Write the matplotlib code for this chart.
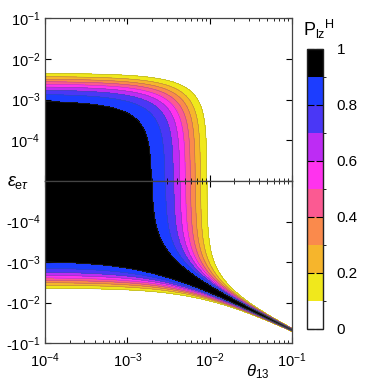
import numpy as np
import matplotlib
matplotlib.use('Agg')
import matplotlib.pyplot as plt
from matplotlib.colors import ListedColormap, BoundaryNorm

plt.rcParams['font.family'] = ['Liberation Sans', 'DejaVu Sans']
plt.rcParams['mathtext.fontset'] = 'custom'
plt.rcParams['mathtext.rm'] = 'Liberation Sans'
plt.rcParams['mathtext.it'] = 'Liberation Sans:italic'

# colour levels of P_lz^H
levels = [0, 0.1, 0.2, 0.3, 0.4, 0.5, 0.6, 0.7, 0.8, 0.9, 1.0]
band_colors = ['#ffffff', '#f0e81c', '#f6b52c', '#fa8a4c', '#fb5a92',
               '#ff33ee', '#bd2cf4', '#4a37f6', '#1c3dff', '#000000']

# fitted from the picture: P = exp(-(theta_eff / theta_c)^2), theta_eff = theta13 + a*eps
theta_c = 6.1e-3
a_eps = 2.1

x_ticks = [1e-4, 1e-3, 1e-2, 1e-1]
x_labels = ['$10^{-4}$', '$10^{-3}$', '$10^{-2}$', '$10^{-1}$']
y_ticks = [1e-5, 1e-4, 1e-3, 1e-2, 1e-1]
y_labels_up = ['', '$10^{-4}$', '$10^{-3}$', '$10^{-2}$', '$10^{-1}$']
y_labels_dn = ['', '-$10^{-4}$', '-$10^{-3}$', '-$10^{-2}$', '-$10^{-1}$']

cmap = ListedColormap(band_colors)
norm = BoundaryNorm(levels, cmap.N)

th = np.logspace(-4, -1, 600)
ep = np.logspace(-5, -1, 600)
TH, EP = np.meshgrid(th, ep)

fig = plt.figure(figsize=(3.68, 3.82), dpi=100)
ax_up = fig.add_axes([0.1223, 0.526, 0.6712, 0.4269])
ax_dn = fig.add_axes([0.1223, 0.1021, 0.6712, 0.4239])

for ax, sign in [(ax_up, 1), (ax_dn, -1)]:
    P = np.exp(-((TH + sign * a_eps * EP) / theta_c) ** 2)
    ax.contourf(TH, EP, P, levels=levels, cmap=cmap, norm=norm)
    ax.contour(TH, EP, P, levels=levels[1:-1], colors='#555555', linewidths=0.3, alpha=0.6)
    ax.set_xscale('log')
    ax.set_yscale('log')
    ax.set_xlim(1e-4, 1e-1)
    ax.set_ylim(1e-5, 1e-1)
    ax.set_yticks(y_ticks)
    ax.yaxis.set_minor_locator(matplotlib.ticker.NullLocator())
    ax.tick_params(which='both', direction='in', top=True, right=True, labelsize=10.5)
    ax.tick_params(which='major', length=4)
    ax.tick_params(which='minor', length=2)
    for s in ax.spines.values():
        s.set_color('#444444')
        s.set_linewidth(0.9)

ax_up.set_yticklabels(y_labels_up)
ax_up.set_xticklabels([])
ax_up.tick_params(axis='x', which='both', labelbottom=False)
ax_dn.invert_yaxis()
ax_dn.set_yticklabels(y_labels_dn)
ax_dn.set_xticks(x_ticks)
ax_dn.set_xticklabels(x_labels)
ax_dn.tick_params(axis='x', pad=6)

fig.text(0.02, 0.522, r'$\varepsilon_{\mathrm{e}\tau}$', fontsize=13, ha='left', va='center')
fig.text(0.70, 0.028, r'$\theta_{13}$', fontsize=12, ha='center', va='center')

cax = fig.add_axes([0.834, 0.139, 0.0435, 0.733])
sm = matplotlib.cm.ScalarMappable(norm=norm, cmap=cmap)
cb = fig.colorbar(sm, cax=cax, ticks=[0, 0.2, 0.4, 0.6, 0.8, 1.0])
cb.ax.set_yticklabels(['0', '0.2', '0.4', '0.6', '0.8', '1'])
cb.ax.tick_params(direction='in', length=5, left=True, right=True, labelsize=11, pad=10)
cb.outline.set_linewidth(1.0)
cb.outline.set_edgecolor('#222222')
fig.text(0.868, 0.922, r'$\mathrm{P_{lz}}^{\mathrm{H}}$', fontsize=13, ha='center', va='center')

fig.savefig('out.png', dpi=100)
